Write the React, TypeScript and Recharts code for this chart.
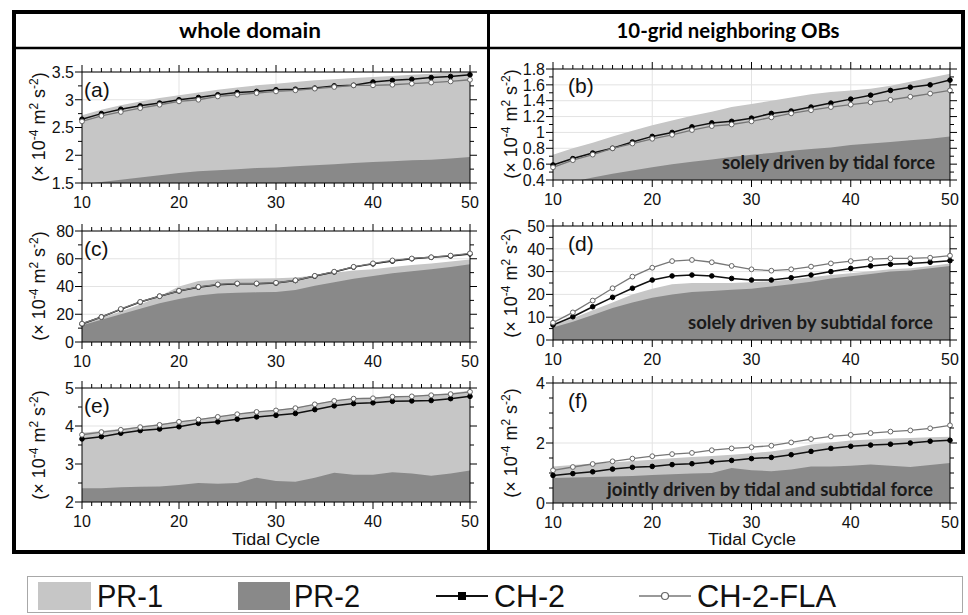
import { Area, CartesianGrid, ComposedChart, Line, XAxis, YAxis } from "recharts";

const cycles = [10, 12, 14, 16, 18, 20, 22, 24, 26, 28, 30, 32, 34, 36, 38, 40, 42, 44, 46, 48, 50];
const xMajor = [10, 20, 30, 40, 50];

// (a) whole domain, tidal force
const aPr1 = [2.72, 2.82, 2.9, 2.97, 3.03, 3.08, 3.13, 3.18, 3.22, 3.26, 3.29, 3.32, 3.35, 3.37, 3.39, 3.41, 3.43, 3.45, 3.47, 3.49, 3.5];
const aPr2 = [1.47, 1.52, 1.56, 1.6, 1.64, 1.68, 1.71, 1.73, 1.75, 1.77, 1.78, 1.8, 1.82, 1.84, 1.86, 1.88, 1.89, 1.91, 1.92, 1.94, 1.97];
const aCh2 = [2.65, 2.75, 2.83, 2.89, 2.94, 3.0, 3.04, 3.09, 3.13, 3.15, 3.18, 3.19, 3.21, 3.25, 3.26, 3.32, 3.35, 3.37, 3.4, 3.42, 3.45];
const aFla = [2.61, 2.71, 2.78, 2.85, 2.91, 2.97, 3.0, 3.06, 3.09, 3.12, 3.15, 3.17, 3.2, 3.23, 3.26, 3.26, 3.27, 3.29, 3.31, 3.33, 3.36];

// (b) neighboring OBs, tidal force
const bPr1 = [0.72, 0.8, 0.87, 0.95, 1.02, 1.09, 1.15, 1.21, 1.26, 1.32, 1.36, 1.4, 1.44, 1.48, 1.51, 1.53, 1.55, 1.59, 1.64, 1.69, 1.74];
const bPr2 = [0.33, 0.38, 0.43, 0.48, 0.52, 0.56, 0.6, 0.63, 0.66, 0.69, 0.72, 0.74, 0.77, 0.79, 0.81, 0.84, 0.86, 0.88, 0.9, 0.92, 0.95];
const bCh2 = [0.59, 0.67, 0.74, 0.8, 0.88, 0.95, 1.0, 1.07, 1.12, 1.14, 1.18, 1.24, 1.27, 1.32, 1.37, 1.42, 1.47, 1.53, 1.57, 1.6, 1.66];
const bFla = [0.56, 0.65, 0.72, 0.8, 0.86, 0.92, 0.97, 1.03, 1.08, 1.1, 1.14, 1.19, 1.24, 1.28, 1.32, 1.35, 1.38, 1.41, 1.45, 1.49, 1.53];

// (c) whole domain, subtidal force
const cPr1 = [13, 17.5, 22, 27, 33, 40, 44, 45, 45.5, 45.8, 46, 46.5, 48, 50, 51.5, 52.5, 54, 55.5, 56.5, 58, 59.5];
const cPr2 = [12, 16, 20, 24, 28, 31, 33.5, 35, 35.5, 35.8, 36, 37.5, 40.5, 43, 45.5, 47.5, 49.5, 51, 52.5, 54, 56];
const cCh2 = [13, 18, 23.5, 28.8, 33, 36.8, 39.5, 41.3, 42, 42, 42.5, 44.3, 47.5, 50.5, 54, 56.3, 58.3, 60, 61, 62, 63.5];
const cFla = [13.2, 18, 23.8, 28.9, 33, 36.9, 39.7, 41.5, 42.2, 42.2, 42.7, 44.5, 47.7, 50.7, 54.2, 56.7, 58.8, 60.2, 61.1, 62.3, 63.9];

// (d) neighboring OBs, subtidal force
const dPr1 = [6.5, 9.5, 13, 16.5, 20, 22.5, 24.5, 25, 25, 25, 25.3, 25.8, 26.5, 27.5, 28.5, 29.3, 30.2, 31, 31.5, 32.5, 33.5];
const dPr2 = [5.5, 8, 11, 14, 16.5, 18.5, 20, 21, 21.5, 22, 22.5, 23.5, 24.5, 25.5, 27, 28, 29, 30, 30.5, 31.5, 32.5];
const dCh2 = [6.6, 10.2, 14.6, 18.7, 22.7, 26.3, 28.1, 28.5, 28.1, 27, 26.3, 26.3, 27.3, 28.5, 30, 31.4, 32.5, 33.2, 33.6, 34.1, 34.8];
const dFla = [7.6, 12.1, 17.3, 22.7, 27.8, 31.7, 34.6, 35.1, 34.1, 32.5, 31, 30.4, 31, 32.2, 33.6, 34.6, 35.5, 35.8, 35.8, 36.1, 37];

// (e) whole domain, joint forcing
const ePr1 = [3.82, 3.87, 3.93, 3.99, 4.05, 4.12, 4.18, 4.25, 4.32, 4.38, 4.42, 4.48, 4.58, 4.67, 4.73, 4.75, 4.78, 4.8, 4.83, 4.87, 4.93];
const ePr2 = [2.36, 2.36, 2.39, 2.4, 2.41, 2.45, 2.5, 2.48, 2.5, 2.64, 2.55, 2.53, 2.64, 2.77, 2.72, 2.72, 2.78, 2.75, 2.69, 2.75, 2.83];
const eCh2 = [3.66, 3.72, 3.81, 3.88, 3.92, 3.98, 4.07, 4.11, 4.18, 4.24, 4.28, 4.33, 4.43, 4.53, 4.59, 4.61, 4.65, 4.66, 4.67, 4.72, 4.78];
const eFla = [3.77, 3.84, 3.9, 3.97, 4.03, 4.11, 4.17, 4.24, 4.31, 4.37, 4.41, 4.47, 4.57, 4.66, 4.72, 4.73, 4.77, 4.78, 4.81, 4.84, 4.9];

// (f) neighboring OBs, joint forcing
const fPr1 = [1.22, 1.27, 1.31, 1.35, 1.4, 1.44, 1.49, 1.53, 1.57, 1.61, 1.66, 1.72, 1.82, 1.95, 2.02, 2.08, 2.12, 2.15, 2.17, 2.19, 2.21];
const fPr2 = [0.83, 0.85, 0.87, 0.88, 0.9, 0.93, 0.96, 0.98, 1.0, 1.17, 1.09, 1.06, 1.12, 1.22, 1.22, 1.24, 1.28, 1.24, 1.2, 1.27, 1.33];
const fCh2 = [0.92, 0.98, 1.04, 1.13, 1.19, 1.22, 1.28, 1.31, 1.37, 1.42, 1.48, 1.52, 1.61, 1.72, 1.82, 1.89, 1.93, 1.96, 2.0, 2.06, 2.09];
const fFla = [1.09, 1.2, 1.3, 1.39, 1.48, 1.56, 1.63, 1.67, 1.76, 1.82, 1.86, 1.91, 2.02, 2.13, 2.22, 2.27, 2.33, 2.38, 2.42, 2.49, 2.59];

const aTicks = [1.5, 2, 2.5, 3, 3.5];
const bTicks = [0.4, 0.6, 0.8, 1, 1.2, 1.4, 1.6, 1.8];
const cTicks = [0, 20, 40, 60, 80];
const dTicks = [0, 10, 20, 30, 40, 50];
const eTicks = [2, 3, 4, 5];
const fTicks = [0, 2, 4];

const LIGHT = "#c6c6c6";
const DARK = "#898989";
const AXIS_FONT = "'Liberation Sans', Arial, sans-serif";
const BOLD_FONT = "Lato, 'Open Sans', sans-serif";

function steps(from: number, to: number, step: number) {
  const n = Math.round((to - from) / step);
  return Array.from({ length: n + 1 }, (_, i) => +(from + i * step).toFixed(4));
}

const isIn = (list: number[], v: number) => list.some((m) => Math.abs(m - v) < 1e-6);

function XTick(props: any) {
  const { x, y, payload, side } = props;
  const major = isIn(xMajor, payload.value);
  const len = major ? 7 : 4;
  if (side === "top") {
    return <line x1={x} x2={x} y1={y} y2={y - len} stroke="#000" strokeWidth={1} />;
  }
  return (
    <g>
      <line x1={x} x2={x} y1={y} y2={y + len} stroke="#000" strokeWidth={1} />
      {major && (
        <text x={x} y={y + 25} textAnchor="middle" fontSize={16} fontFamily={AXIS_FONT} fill="#111">
          {payload.value}
        </text>
      )}
    </g>
  );
}

function YTick(props: any) {
  const { x, y, payload, side, majors } = props;
  const major = isIn(majors, payload.value);
  const len = major ? 7 : 4;
  if (side === "right") {
    return <line x1={x} x2={x + len} y1={y} y2={y} stroke="#000" strokeWidth={1} />;
  }
  return (
    <g>
      <line x1={x - len} x2={x} y1={y} y2={y} stroke="#000" strokeWidth={1} />
      {major && (
        <text x={x - 8} y={y} dy="0.36em" textAnchor="end" fontSize={16} fontFamily={AXIS_FONT} fill="#111">
          {payload.value}
        </text>
      )}
    </g>
  );
}

interface PanelProps {
  left: number;
  top: number;
  width: number;
  height: number;
  pr1: number[];
  pr2: number[];
  ch2: number[];
  fla: number[];
  domain: [number, number];
  majors: number[];
  minorStep: number;
}

function Panel({ left, top, width, height, pr1, pr2, ch2, fla, domain, majors, minorStep }: PanelProps) {
  const data = cycles.map((c, i) => ({ cycle: c, pr1: pr1[i], pr2: pr2[i], ch2: ch2[i], fla: fla[i] }));
  const xTicks = steps(10, 50, 1);
  const yTicks = steps(domain[0], domain[1], minorStep);
  return (
    <div style={{ position: "absolute", left: left - 60, top: top - 10 }}>
      <ComposedChart width={width + 80} height={height + 50} data={data} margin={{ top: 0, right: 0, bottom: 0, left: 0 }}>
        <CartesianGrid
          xAxisId="b"
          yAxisId="l"
          stroke="#e3e3e3"
          verticalValues={[20, 30, 40]}
          horizontalValues={majors}
        />
        <XAxis
          xAxisId="b"
          dataKey="cycle"
          type="number"
          domain={[10, 50]}
          ticks={xTicks}
          interval={0}
          height={40}
          tickSize={0}
          tickMargin={0}
          tickLine={false}
          axisLine={{ stroke: "#000" }}
          tick={(t: any) => <XTick {...t} side="bottom" />}
        />
        <XAxis
          xAxisId="t"
          orientation="top"
          dataKey="cycle"
          type="number"
          domain={[10, 50]}
          ticks={xTicks}
          interval={0}
          height={10}
          tickSize={0}
          tickMargin={0}
          tickLine={false}
          axisLine={{ stroke: "#000" }}
          tick={(t: any) => <XTick {...t} side="top" />}
        />
        <YAxis
          yAxisId="l"
          type="number"
          domain={domain}
          allowDataOverflow
          ticks={yTicks}
          interval={0}
          width={60}
          tickSize={0}
          tickMargin={0}
          tickLine={false}
          axisLine={{ stroke: "#000" }}
          tick={(t: any) => <YTick {...t} side="left" majors={majors} />}
        />
        <YAxis
          yAxisId="r"
          orientation="right"
          type="number"
          domain={domain}
          allowDataOverflow
          ticks={yTicks}
          interval={0}
          width={20}
          tickSize={0}
          tickMargin={0}
          tickLine={false}
          axisLine={{ stroke: "#000" }}
          tick={(t: any) => <YTick {...t} side="right" majors={majors} />}
        />
        <Area xAxisId="b" yAxisId="l" dataKey="pr1" type="linear" stroke="none" fill={LIGHT} fillOpacity={1} dot={false} activeDot={false} isAnimationActive={false} />
        <Area xAxisId="b" yAxisId="l" dataKey="pr2" type="linear" stroke="none" fill={DARK} fillOpacity={1} dot={false} activeDot={false} isAnimationActive={false} />
        <Line
          xAxisId="b"
          yAxisId="l"
          dataKey="ch2"
          type="linear"
          stroke="#111"
          strokeWidth={1.5}
          dot={{ r: 2.3, fill: "#000", stroke: "#000", strokeWidth: 1 }}
          activeDot={false}
          isAnimationActive={false}
        />
        <Line
          xAxisId="b"
          yAxisId="l"
          dataKey="fla"
          type="linear"
          stroke="#777"
          strokeWidth={1.3}
          dot={{ r: 2.4, fill: "#fff", stroke: "#666", strokeWidth: 1 }}
          activeDot={false}
          isAnimationActive={false}
        />
      </ComposedChart>
    </div>
  );
}

function YLabel({ x, cy }: { x: number; cy: number }) {
  return (
    <text transform={`translate(${x},${cy}) rotate(-90)`} textAnchor="middle" fontSize={18} fontFamily={AXIS_FONT} fill="#111">
      (× 10<tspan dy={-7} fontSize={12}>-4</tspan>
      <tspan dy={7}> m</tspan>
      <tspan dy={-7} fontSize={12}>2</tspan>
      <tspan dy={7}> s</tspan>
      <tspan dy={-7} fontSize={12}>-2</tspan>
      <tspan dy={7}>)</tspan>
    </text>
  );
}

const panelLetter = { fontSize: 21, fontFamily: AXIS_FONT, fill: "#111" };
const noteStyle = { fontSize: 18, fontFamily: BOLD_FONT, fontWeight: 700, fill: "#1a1a1a" };

export default function App() {
  return (
    <div style={{ position: "absolute", left: 0, top: 0, width: 968, height: 615, background: "#fff" }}>
      <Panel left={82} top={72} width={388} height={111} pr1={aPr1} pr2={aPr2} ch2={aCh2} fla={aFla} domain={[1.5, 3.5]} majors={aTicks} minorStep={0.25} />
      <Panel left={553} top={69} width={397} height={111} pr1={bPr1} pr2={bPr2} ch2={bCh2} fla={bFla} domain={[0.4, 1.8]} majors={bTicks} minorStep={0.1} />
      <Panel left={82} top={231} width={388} height={111} pr1={cPr1} pr2={cPr2} ch2={cCh2} fla={cFla} domain={[0, 80]} majors={cTicks} minorStep={10} />
      <Panel left={553} top={226} width={397} height={114} pr1={dPr1} pr2={dPr2} ch2={dCh2} fla={dFla} domain={[0, 50]} majors={dTicks} minorStep={5} />
      <Panel left={82} top={388} width={388} height={114} pr1={ePr1} pr2={ePr2} ch2={eCh2} fla={eFla} domain={[2, 5]} majors={eTicks} minorStep={0.5} />
      <Panel left={553} top={383} width={397} height={120} pr1={fPr1} pr2={fPr2} ch2={fCh2} fla={fFla} domain={[0, 4]} majors={fTicks} minorStep={0.5} />

      <svg width={968} height={615} style={{ position: "absolute", left: 0, top: 0, pointerEvents: "none" }}>
        <rect x={14} y={12} width={949} height={540} fill="none" stroke="#000" strokeWidth={4} />
        <line x1={14} x2={963} y1={48} y2={48} stroke="#000" strokeWidth={2.5} />
        <line x1={488.5} x2={488.5} y1={12} y2={552} stroke="#000" strokeWidth={3} />

        <text x={250} y={38} textAnchor="middle" fontSize={20} fontFamily={BOLD_FONT} fontWeight={700} textLength={142} lengthAdjust="spacingAndGlyphs">
          whole domain
        </text>
        <text x={728} y={38} textAnchor="middle" fontSize={20} fontFamily={BOLD_FONT} fontWeight={700} textLength={223} lengthAdjust="spacingAndGlyphs">
          10-grid neighboring OBs
        </text>

        <YLabel x={45} cy={127} />
        <YLabel x={45} cy={286} />
        <YLabel x={45} cy={445} />
        <YLabel x={517} cy={124} />
        <YLabel x={517} cy={283} />
        <YLabel x={517} cy={443} />

        <text x={84} y={97} {...panelLetter}>(a)</text>
        <text x={568} y={93} {...panelLetter}>(b)</text>
        <text x={84} y={256} {...panelLetter}>(c)</text>
        <text x={568} y={251} {...panelLetter}>(d)</text>
        <text x={84} y={413} {...panelLetter}>(e)</text>
        <text x={568} y={408} {...panelLetter}>(f)</text>

        <text x={722} y={169} {...noteStyle} textLength={213} lengthAdjust="spacingAndGlyphs">solely driven by tidal force</text>
        <text x={688} y={329} {...noteStyle} textLength={245} lengthAdjust="spacingAndGlyphs">solely driven by subtidal force</text>
        <text x={607} y={496} {...noteStyle} textLength={326} lengthAdjust="spacingAndGlyphs">jointly driven by tidal and subtidal force</text>

        <text x={276} y={545} textAnchor="middle" fontSize={16} fontFamily={AXIS_FONT} fill="#111" textLength={88} lengthAdjust="spacingAndGlyphs">Tidal Cycle</text>
        <text x={752} y={545} textAnchor="middle" fontSize={16} fontFamily={AXIS_FONT} fill="#111" textLength={88} lengthAdjust="spacingAndGlyphs">Tidal Cycle</text>

        <rect x={27.5} y={576.5} width={935} height={36} fill="#fff" stroke="#a8a8a8" strokeWidth={1} />
        <rect x={38} y={582} width={53} height={28} fill={LIGHT} />
        <text x={97} y={607} fontSize={31} fontFamily={AXIS_FONT} fill="#111" textLength={66} lengthAdjust="spacingAndGlyphs">PR-1</text>
        <rect x={238} y={582} width={52} height={28} fill={DARK} />
        <text x={294} y={607} fontSize={31} fontFamily={AXIS_FONT} fill="#111" textLength={66} lengthAdjust="spacingAndGlyphs">PR-2</text>
        <line x1={436} x2={488} y1={596} y2={596} stroke="#111" strokeWidth={2} />
        <rect x={458} y={592} width={8} height={8} fill="#000" />
        <text x={494} y={607} fontSize={31} fontFamily={AXIS_FONT} fill="#111" textLength={71} lengthAdjust="spacingAndGlyphs">CH-2</text>
        <line x1={639} x2={691} y1={596} y2={596} stroke="#777" strokeWidth={1.5} />
        <circle cx={665} cy={596} r={3.5} fill="#fff" stroke="#666" strokeWidth={1.2} />
        <text x={697} y={607} fontSize={31} fontFamily={AXIS_FONT} fill="#111" textLength={139} lengthAdjust="spacingAndGlyphs">CH-2-FLA</text>
      </svg>
    </div>
  );
}
